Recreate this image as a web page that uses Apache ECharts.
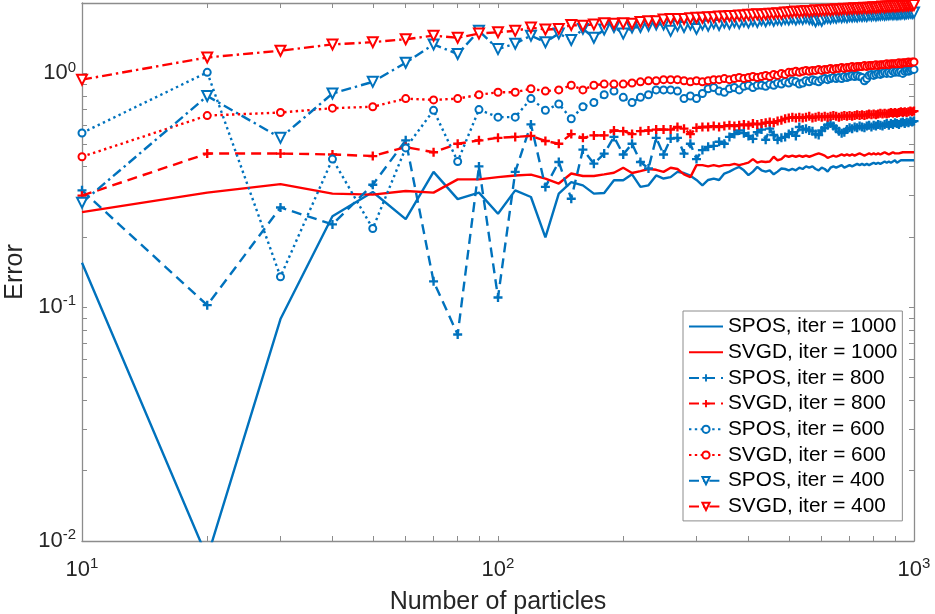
<!DOCTYPE html>
<html>
<head>
    <meta charset="UTF-8">
    <title>Error vs number of particles</title>
    <script src="https://cdn.jsdelivr.net/npm/echarts@6/dist/echarts.min.js"></script>
    <style>
        html, body {
            margin: 0;
            padding: 0;
            width: 100%;
            height: 100%;
            background: #fff;
        }
        #chart {
            width: 935px;
            height: 614px;
        }
    </style>
</head>
<body>
<div id="chart"></div>
<script>
    // number of particles: 10, 20, ..., 1000
    var particles = [];
    for (var n = 10; n <= 1000; n += 10) particles.push(n);

    // tick positions (log axes, minor ticks at 2..9 of each decade)
    var xTicks = [10, 20, 30, 40, 50, 60, 70, 80, 90, 100, 200, 300, 400, 500, 600, 700, 800, 900, 1000];
    var xLabels = [10, 100, 1000];
    var yTicks = [0.01, 0.02, 0.03, 0.04, 0.05, 0.06, 0.07, 0.08, 0.09,
                  0.1, 0.2, 0.3, 0.4, 0.5, 0.6, 0.7, 0.8, 0.9, 1, 2];
    var yLabels = [0.01, 0.1, 1];

    // error values, one per particle count
    var spos1000 = [
        0.155, 0.0085, 0.089, 0.245, 0.311, 0.238, 0.379, 0.29, 0.309, 0.251,
        0.316, 0.296, 0.199, 0.306, 0.343, 0.332, 0.306, 0.308, 0.349, 0.349,
        0.37, 0.327, 0.332, 0.366, 0.355, 0.36, 0.379, 0.375, 0.365, 0.35,
        0.332, 0.35, 0.355, 0.35, 0.373, 0.38, 0.39, 0.398, 0.385, 0.367,
        0.38, 0.398, 0.385, 0.38, 0.385, 0.37, 0.38, 0.392, 0.39, 0.385,
        0.39, 0.385, 0.395, 0.39, 0.40, 0.395, 0.40, 0.39, 0.385, 0.395,
        0.39, 0.38, 0.395, 0.40, 0.395, 0.40, 0.405, 0.395, 0.40, 0.405,
        0.40, 0.405, 0.41, 0.405, 0.41, 0.405, 0.41, 0.405, 0.41, 0.415,
        0.41, 0.415, 0.41, 0.415, 0.42, 0.415, 0.42, 0.415, 0.42, 0.425,
        0.415, 0.42, 0.425, 0.42, 0.425, 0.42, 0.425, 0.43, 0.425, 0.425];

    var svgd1000 = [
        0.255, 0.309, 0.336, 0.306, 0.303, 0.314, 0.309, 0.352, 0.352, 0.36,
        0.366, 0.369, 0.355, 0.338, 0.373, 0.364, 0.364, 0.37, 0.376, 0.395,
        0.375, 0.382, 0.39, 0.387, 0.379, 0.395, 0.39, 0.37, 0.36, 0.405,
        0.405, 0.40, 0.405, 0.40, 0.405, 0.405, 0.41, 0.405, 0.41, 0.415,
        0.43, 0.415, 0.42, 0.418, 0.42, 0.44, 0.425, 0.43, 0.445, 0.44,
        0.445, 0.44, 0.445, 0.44, 0.445, 0.44, 0.445, 0.45, 0.455, 0.45,
        0.445, 0.435, 0.44, 0.445, 0.44, 0.445, 0.45, 0.445, 0.45, 0.445,
        0.45, 0.445, 0.45, 0.455, 0.45, 0.445, 0.45, 0.455, 0.45, 0.455,
        0.45, 0.455, 0.45, 0.455, 0.46, 0.455, 0.45, 0.455, 0.46, 0.455,
        0.46, 0.455, 0.46, 0.46, 0.455, 0.46, 0.46, 0.46, 0.46, 0.46];

    var spos800 = [
        0.316, 0.102, 0.267, 0.226, 0.334, 0.517, 0.129, 0.0764, 0.40, 0.11,
        0.379, 0.605, 0.327, 0.418, 0.291, 0.472, 0.411, 0.454, 0.535, 0.45,
        0.50, 0.418, 0.392, 0.53, 0.45, 0.526, 0.53, 0.454, 0.50, 0.43,
        0.47, 0.485, 0.49, 0.51, 0.50, 0.535, 0.55, 0.57, 0.555, 0.54,
        0.525, 0.56, 0.575, 0.52, 0.58, 0.545, 0.52, 0.53, 0.535, 0.55,
        0.56, 0.54, 0.59, 0.575, 0.58, 0.57, 0.565, 0.55, 0.545, 0.57,
        0.585, 0.60, 0.61, 0.595, 0.58, 0.565, 0.555, 0.56, 0.575, 0.585,
        0.58, 0.59, 0.585, 0.595, 0.59, 0.585, 0.595, 0.60, 0.59, 0.60,
        0.595, 0.605, 0.60, 0.595, 0.605, 0.61, 0.60, 0.61, 0.605, 0.615,
        0.61, 0.605, 0.615, 0.62, 0.61, 0.62, 0.615, 0.625, 0.62, 0.625];

    var svgd800 = [
        0.30, 0.454, 0.454, 0.45, 0.443, 0.484, 0.46, 0.50, 0.517, 0.53,
        0.535, 0.54, 0.514, 0.50, 0.55, 0.53, 0.543, 0.543, 0.57, 0.566,
        0.55, 0.566, 0.57, 0.575, 0.575, 0.575, 0.59, 0.58, 0.55, 0.585,
        0.59, 0.59, 0.595, 0.59, 0.595, 0.60, 0.595, 0.60, 0.605, 0.60,
        0.61, 0.605, 0.61, 0.615, 0.62, 0.615, 0.625, 0.63, 0.64, 0.645,
        0.65, 0.645, 0.65, 0.645, 0.65, 0.655, 0.645, 0.65, 0.655, 0.65,
        0.655, 0.65, 0.655, 0.66, 0.655, 0.65, 0.655, 0.66, 0.655, 0.66,
        0.655, 0.66, 0.665, 0.66, 0.665, 0.66, 0.665, 0.67, 0.665, 0.67,
        0.665, 0.67, 0.675, 0.67, 0.675, 0.67, 0.675, 0.68, 0.675, 0.68,
        0.675, 0.68, 0.685, 0.68, 0.685, 0.68, 0.685, 0.69, 0.685, 0.69];

    var spos600 = [
        0.556, 1.01, 0.135, 0.43, 0.217, 0.48, 0.695, 0.42, 0.70, 0.65,
        0.65, 0.78, 0.695, 0.74, 0.64, 0.72, 0.75, 0.81, 0.84, 0.79,
        0.75, 0.79, 0.81, 0.85, 0.85, 0.85, 0.84, 0.78, 0.80, 0.78,
        0.82, 0.86, 0.87, 0.84, 0.83, 0.86, 0.87, 0.85, 0.88, 0.89,
        0.87, 0.89, 0.89, 0.88, 0.90, 0.89, 0.91, 0.90, 0.92, 0.91,
        0.93, 0.92, 0.90, 0.91, 0.93, 0.92, 0.94, 0.93, 0.92, 0.94,
        0.95, 0.94, 0.95, 0.96, 0.95, 0.96, 0.95, 0.97, 0.96, 0.97,
        0.98, 0.97, 0.98, 0.97, 0.96, 0.93, 0.95, 0.98, 0.99, 0.98,
        0.99, 1.00, 0.99, 1.00, 1.01, 1.00, 1.01, 1.00, 1.02, 1.01,
        1.02, 1.01, 1.02, 1.00, 1.02, 1.03, 1.02, 1.03, 1.04, 1.04];

    var svgd600 = [
        0.44, 0.66, 0.68, 0.71, 0.72, 0.78, 0.77, 0.78, 0.81, 0.83,
        0.83, 0.86, 0.84, 0.85, 0.89, 0.85, 0.89, 0.90, 0.90, 0.90,
        0.91, 0.92, 0.93, 0.93, 0.94, 0.94, 0.94, 0.93, 0.92, 0.93,
        0.92, 0.93, 0.94, 0.94, 0.95, 0.94, 0.95, 0.96, 0.95, 0.96,
        0.97, 0.96, 0.97, 0.98, 0.97, 0.99, 0.98, 1.00, 0.99, 1.01,
        1.01, 1.02, 1.01, 1.02, 1.03, 1.02, 1.03, 1.03, 1.04, 1.03,
        1.04, 1.04, 1.05, 1.04, 1.05, 1.05, 1.06, 1.05, 1.06, 1.06,
        1.07, 1.06, 1.07, 1.07, 1.07, 1.08, 1.07, 1.08, 1.08, 1.08,
        1.09, 1.08, 1.09, 1.09, 1.09, 1.10, 1.09, 1.10, 1.10, 1.10,
        1.10, 1.11, 1.10, 1.11, 1.11, 1.11, 1.12, 1.11, 1.12, 1.12];

    var spos400 = [
        0.28, 0.80, 0.53, 0.82, 0.92, 1.11, 1.33, 1.21, 1.52, 1.27,
        1.34, 1.45, 1.36, 1.48, 1.39, 1.55, 1.42, 1.54, 1.58, 1.48,
        1.57, 1.58, 1.60, 1.62, 1.62, 1.52, 1.60, 1.58, 1.62, 1.55,
        1.62, 1.60, 1.64, 1.61, 1.65, 1.63, 1.66, 1.64, 1.67, 1.65,
        1.68, 1.66, 1.69, 1.67, 1.70, 1.68, 1.70, 1.69, 1.71, 1.70,
        1.72, 1.70, 1.72, 1.71, 1.73, 1.71, 1.70, 1.67, 1.70, 1.68,
        1.72, 1.73, 1.72, 1.74, 1.73, 1.75, 1.74, 1.75, 1.74, 1.76,
        1.75, 1.76, 1.75, 1.77, 1.76, 1.77, 1.76, 1.78, 1.77, 1.78,
        1.77, 1.78, 1.78, 1.79, 1.78, 1.79, 1.79, 1.80, 1.79, 1.80,
        1.79, 1.80, 1.80, 1.81, 1.80, 1.81, 1.81, 1.82, 1.81, 1.82];

    var svgd400 = [
        0.94, 1.17, 1.25, 1.33, 1.36, 1.40, 1.45, 1.42, 1.48, 1.50,
        1.52, 1.57, 1.54, 1.55, 1.61, 1.60, 1.62, 1.64, 1.63, 1.64,
        1.63, 1.66, 1.67, 1.67, 1.70, 1.71, 1.71, 1.71, 1.72, 1.73,
        1.73, 1.74, 1.74, 1.75, 1.75, 1.76, 1.76, 1.77, 1.77, 1.78,
        1.78, 1.79, 1.78, 1.79, 1.80, 1.80, 1.81, 1.80, 1.82, 1.82,
        1.83, 1.84, 1.83, 1.84, 1.85, 1.84, 1.85, 1.86, 1.85, 1.86,
        1.86, 1.87, 1.86, 1.87, 1.88, 1.87, 1.88, 1.89, 1.88, 1.89,
        1.89, 1.90, 1.89, 1.90, 1.90, 1.91, 1.90, 1.91, 1.91, 1.92,
        1.91, 1.92, 1.92, 1.93, 1.92, 1.93, 1.93, 1.93, 1.94, 1.93,
        1.94, 1.94, 1.95, 1.94, 1.95, 1.95, 1.95, 1.96, 1.95, 1.96];

    var BLUE = '#0072BD';
    var RED = '#FF0000';
    var FONT = 'Liberation Sans';
    var PLUS = 'path://M3.7,0H6.3V3.7H10V6.3H6.3V10H3.7V6.3H0V3.7H3.7Z';

    var DASHED = [10, 6];
    var DOTTED = [2.4, 3.4];
    var DASHDOT = [10, 4, 2.4, 4];

    function makeSeries(name, values, color, dash, symbol, size, rotate, border) {
        return {
            name: name,
            type: 'line',
            data: particles.map(function (x, i) { return [x, values[i]]; }),
            lineStyle: { color: color, width: 2.4, type: dash },
            itemStyle: { color: color, borderColor: color, borderWidth: border || 0 },
            symbol: symbol,
            symbolSize: size,
            symbolRotate: rotate || 0,
            showSymbol: symbol !== 'none',
            clip: true,
            emphasis: { disabled: true }
        };
    }

    function powLabel(v) {
        var e = Math.round(Math.log(v) / Math.LN10);
        return '{b|10}{s|' + e + '}';
    }

    var labelRich = {
        b: { fontFamily: FONT, fontSize: 22, color: '#262626', lineHeight: 27 },
        s: { fontFamily: FONT, fontSize: 15, color: '#262626', verticalAlign: 'top', lineHeight: 15 }
    };

    var axisLine = { show: true, lineStyle: { color: '#8c8c8c', width: 1.3 } };
    var tickStyle = { color: '#8c8c8c', width: 1 };

    // solid-line entries show only the line in the legend
    var legendData = [
        { name: 'SPOS, iter = 1000', itemStyle: { opacity: 0 } },
        { name: 'SVGD, iter = 1000', itemStyle: { opacity: 0 } },
        { name: 'SPOS, iter = 800' },
        { name: 'SVGD, iter = 800' },
        { name: 'SPOS, iter = 600' },
        { name: 'SVGD, iter = 600' },
        { name: 'SPOS, iter = 400' },
        { name: 'SVGD, iter = 400' }
    ];

    var chart = echarts.init(document.getElementById('chart'), null, { renderer: 'canvas' });

    var option = {
        animation: false,
        backgroundColor: '#fff',
        grid: {
            left: 82, right: 21, top: 3, bottom: 73,
            containLabel: false,
            outerBoundsMode: 'none'
        },
        legend: {
            data: legendData,
            left: 683,
            top: 311,
            orient: 'vertical',
            itemWidth: 34,
            itemHeight: 9,
            itemGap: 4.7,
            padding: [5, 5, 4, 5],
            backgroundColor: '#fff',
            borderColor: '#8c8c8c',
            borderWidth: 1,
            borderRadius: 0,
            textStyle: { fontFamily: FONT, fontSize: 20.8, color: '#000', lineHeight: 20 },
            selectedMode: false
        },
        xAxis: [{
            type: 'log',
            logBase: 10,
            min: 10,
            max: 1000,
            position: 'bottom',
            name: 'Number of particles',
            nameLocation: 'middle',
            nameGap: 49,
            nameTextStyle: { fontFamily: FONT, fontSize: 25, color: '#262626' },
            axisLine: axisLine,
            axisTick: { show: true, inside: true, length: 5, customValues: xTicks, lineStyle: tickStyle },
            axisLabel: { show: true, margin: 15, customValues: xLabels, formatter: powLabel, rich: labelRich },
            splitLine: { show: false },
            minorTick: { show: false }
        }, {
            type: 'log',
            logBase: 10,
            min: 10,
            max: 1000,
            position: 'top',
            axisLine: axisLine,
            axisTick: { show: true, inside: true, length: 5, customValues: xTicks, lineStyle: tickStyle },
            axisLabel: { show: false },
            splitLine: { show: false }
        }],
        yAxis: [{
            type: 'log',
            logBase: 10,
            min: 0.01,
            max: 2,
            position: 'left',
            name: 'Error',
            nameLocation: 'middle',
            nameGap: 54,
            nameRotate: 90,
            nameTextStyle: { fontFamily: FONT, fontSize: 25, color: '#262626' },
            axisLine: axisLine,
            axisTick: { show: true, inside: true, length: 5, customValues: yTicks, lineStyle: tickStyle },
            axisLabel: { show: true, margin: 6, customValues: yLabels, formatter: powLabel, rich: labelRich },
            splitLine: { show: false }
        }, {
            type: 'log',
            logBase: 10,
            min: 0.01,
            max: 2,
            position: 'right',
            axisLine: axisLine,
            axisTick: { show: true, inside: true, length: 5, customValues: yTicks, lineStyle: tickStyle },
            axisLabel: { show: false },
            splitLine: { show: false }
        }],
        series: [
            makeSeries('SPOS, iter = 1000', spos1000, BLUE, 'solid', 'none', 0),
            makeSeries('SVGD, iter = 1000', svgd1000, RED, 'solid', 'none', 0),
            makeSeries('SPOS, iter = 800', spos800, BLUE, DASHED, PLUS, 9),
            makeSeries('SVGD, iter = 800', svgd800, RED, DASHED, PLUS, 9),
            makeSeries('SPOS, iter = 600', spos600, BLUE, DOTTED, 'emptyCircle', 7, 0, 2),
            makeSeries('SVGD, iter = 600', svgd600, RED, DOTTED, 'emptyCircle', 7, 0, 2),
            makeSeries('SPOS, iter = 400', spos400, BLUE, DASHDOT, 'emptyTriangle', 10, 180, 2),
            makeSeries('SVGD, iter = 400', svgd400, RED, DASHDOT, 'emptyTriangle', 10, 180, 2)
        ]
    };

    chart.setOption(option);

    window.addEventListener('resize', function () {
        chart.resize();
    });
</script>
</body>
</html>
